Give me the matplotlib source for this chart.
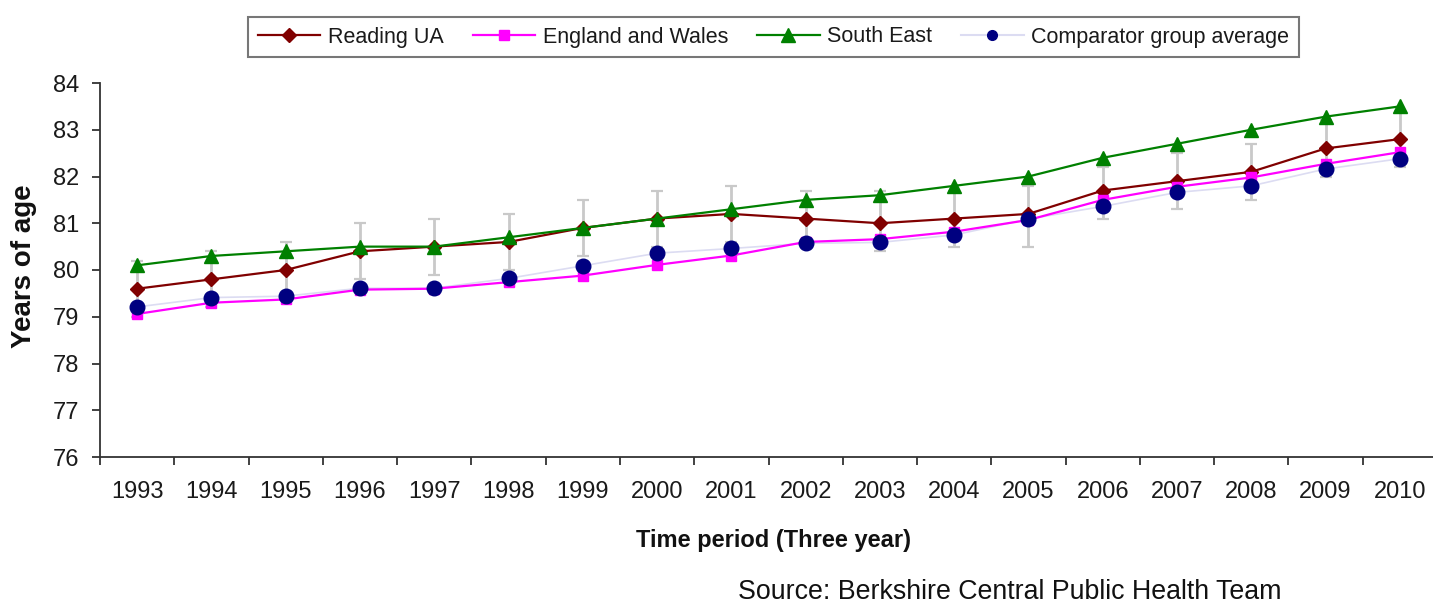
import matplotlib
matplotlib.use("Agg")
import matplotlib.pyplot as plt
import numpy as np

plt.rcParams['font.family'] = ['Liberation Sans', 'DejaVu Sans']

periods = ["1993", "1994", "1995", "1996", "1997", "1998", "1999", "2000", "2001",
           "2002", "2003", "2004", "2005", "2006", "2007", "2008", "2009", "2010"]

reading_ua = [79.6, 79.8, 80.0, 80.4, 80.5, 80.6, 80.9, 81.1, 81.2,
              81.1, 81.0, 81.1, 81.2, 81.7, 81.9, 82.1, 82.6, 82.8]
reading_lower = [79.0, 79.2, 79.4, 79.8, 79.9, 80.0, 80.3, 80.5, 80.6,
                 80.5, 80.4, 80.5, 80.5, 81.1, 81.3, 81.5, 82.0, 82.2]
reading_upper = [80.2, 80.4, 80.6, 81.0, 81.1, 81.2, 81.5, 81.7, 81.8,
                 81.7, 81.7, 81.7, 81.8, 82.2, 82.5, 82.7, 83.2, 83.4]
england_wales = [79.06, 79.3, 79.37, 79.58, 79.6, 79.74, 79.88, 80.11, 80.31,
                 80.6, 80.66, 80.82, 81.07, 81.5, 81.78, 81.98, 82.27, 82.52]
south_east = [80.1, 80.3, 80.4, 80.5, 80.5, 80.7, 80.9, 81.1, 81.3,
              81.5, 81.6, 81.8, 82.0, 82.4, 82.7, 83.0, 83.28, 83.5]
comparator = [79.21, 79.41, 79.44, 79.61, 79.61, 79.82, 80.09, 80.36, 80.46,
              80.57, 80.59, 80.75, 81.09, 81.36, 81.66, 81.8, 82.16, 82.38]

y_ticks = [76, 77, 78, 79, 80, 81, 82, 83, 84]

W, H = 1433, 603
fig = plt.figure(figsize=(W / 100, H / 100), dpi=100)
ax = fig.add_axes([100 / W, (H - 457) / H, 1337 / W, 374 / H])

x = np.arange(len(periods))
ru = np.array(reading_ua)
yerr = [ru - np.array(reading_lower), np.array(reading_upper) - ru]

ax.errorbar(x, ru, yerr=yerr, fmt='none', ecolor='#c9c9c9', elinewidth=2.0,
            capsize=4, capthick=1.6, zorder=1)

ax.plot(x, comparator, color='#dcdcf2', lw=1.2, zorder=2)
ax.plot(x, reading_ua, color='#800000', lw=1.6, marker='D', markersize=7.5,
        zorder=3, label='Reading UA')
ax.plot(x, england_wales, color='#ff00ff', lw=1.6, marker='s', markersize=7,
        zorder=4, label='England and Wales')
ax.plot(x, south_east, color='#008000', lw=1.6, marker='^', markersize=10,
        zorder=5, label='South East')
ax.plot(x, comparator, color='#000080', lw=0, marker='o', markersize=10.5,
        zorder=6)

# legend proxy for comparator: pale line with navy dot
ax.plot([], [], color='#dcdcf2', lw=1.5, marker='o', markersize=7,
        markerfacecolor='#000080', markeredgecolor='#000080',
        label='Comparator group average')

ax.set_xlim(-0.5, len(periods) - 0.5)
ax.set_ylim(76, 84)
ax.set_yticks(y_ticks)
ax.set_yticklabels([str(v) for v in y_ticks])
ax.set_xticks(x)
ax.set_xticklabels(periods)
ax.set_xticks(np.arange(len(periods) + 1) - 0.5, minor=True)

for s in ['top', 'right']:
    ax.spines[s].set_visible(False)
for s in ['left', 'bottom']:
    ax.spines[s].set_color('#333333')
    ax.spines[s].set_linewidth(1.3)

ax.tick_params(axis='y', direction='out', length=6, width=1.3, color='#333333',
               labelsize=17, pad=9, labelcolor='#1a1a1a')
ax.tick_params(axis='x', which='major', length=0, labelsize=17, pad=17,
               labelcolor='#1a1a1a')
ax.tick_params(axis='x', which='minor', direction='out', length=6, width=1.3,
               color='#333333')

fig.text(24 / W, 1 - 266 / H, 'Years of age', rotation=90, ha='center',
         va='center', fontsize=20, fontweight='bold', color='#111111')
fig.text(773 / W, 1 - 541 / H, 'Time period (Three year)', ha='center',
         va='center', fontsize=17, fontweight='bold', color='#111111')
fig.text(738 / W, 1 - 592 / H, 'Source: Berkshire Central Public Health Team',
         ha='left', va='center', fontsize=19.3, color='#111111')

handles, labels = ax.get_legend_handles_labels()
leg = fig.legend(handles, labels, loc='center', bbox_to_anchor=(773.5 / W, 1 - 37 / H),
                 ncol=4, fontsize=15.5, frameon=True, fancybox=False,
                 handlelength=2.9, handletextpad=0.35, columnspacing=1.35,
                 borderpad=0.45, borderaxespad=0)
leg.get_frame().set_edgecolor('#555555')
leg.get_frame().set_linewidth(1.5)
for t in leg.get_texts():
    t.set_color('#1a1a1a')

fig.savefig('out.png', dpi=100)
